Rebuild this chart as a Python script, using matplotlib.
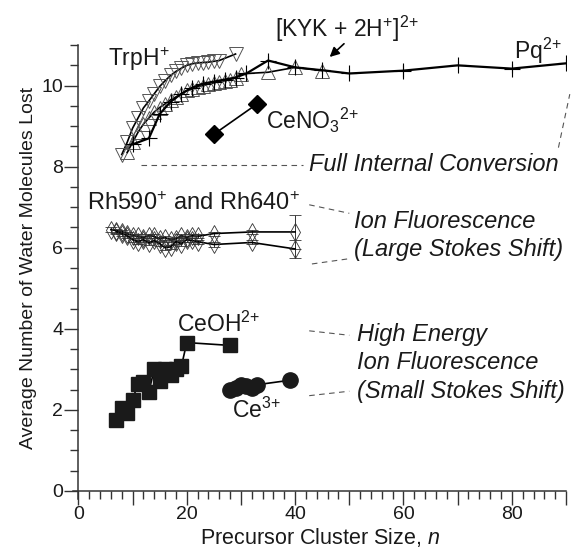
import numpy as np
import matplotlib
matplotlib.use('Agg')
import matplotlib.pyplot as plt
from matplotlib.ticker import MultipleLocator, FuncFormatter

plt.rcParams['font.family'] = ['Liberation Sans', 'DejaVu Sans']
plt.rcParams['mathtext.fontset'] = 'custom'
plt.rcParams['mathtext.rm'] = 'Liberation Sans'
plt.rcParams['mathtext.it'] = 'Liberation Sans:italic'
plt.rcParams['mathtext.default'] = 'rm'

# ---- data ----
trp_n = [8, 9, 10, 11, 12, 13, 14, 15, 16, 17, 18, 19, 20, 21, 22, 23, 24, 25, 26, 29]
trp_y = [8.3, 8.6, 8.95, 9.2, 9.45, 9.62, 9.8, 9.98, 10.12, 10.25, 10.35, 10.43,
         10.5, 10.54, 10.56, 10.57, 10.58, 10.6, 10.62, 10.78]

kyk_n = [9, 10, 11, 12, 13, 14, 15, 16, 17, 18, 19, 20, 21, 22, 23, 24, 25, 26,
         27, 28, 29, 30, 35, 40, 45]
kyk_y = [8.35, 8.6, 8.85, 9.05, 9.2, 9.35, 9.46, 9.55, 9.65, 9.72, 9.8, 9.88,
         9.92, 9.97, 10.0, 10.04, 10.07, 10.1, 10.12, 10.15, 10.2, 10.29, 10.33,
         10.45, 10.37]

pq_n = [10, 13, 15, 17, 19, 21, 23, 25, 27, 29, 31, 35, 40, 45, 50, 60, 70, 80, 90]
pq_y = [8.55, 8.7, 9.3, 9.6, 9.8, 9.95, 10.05, 10.1, 10.15, 10.2, 10.3, 10.62,
        10.45, 10.38, 10.3, 10.37, 10.5, 10.42, 10.55]
pq_err = [0.1, 0.1, 0.08, 0.08, 0.08, 0.08, 0.08, 0.08, 0.08, 0.08, 0.08, 0.12,
          0.1, 0.1, 0.1, 0.15, 0.1, 0.12, 0.1]

cen_n = [25, 33]
cen_y = [8.8, 9.55]

rha_n = [6, 7, 8, 9, 10, 11, 12, 13, 14, 15, 16, 17, 18, 19, 20, 21, 22, 25, 32, 40]
rha_y = [6.45, 6.42, 6.4, 6.35, 6.3, 6.28, 6.25, 6.3, 6.28, 6.22, 6.25, 6.2,
         6.22, 6.3, 6.25, 6.3, 6.28, 6.35, 6.39, 6.39]
rha_err = [0.05] * 19 + [0.42]

rhb_n = [7, 8, 9, 10, 11, 12, 13, 14, 15, 16, 17, 18, 19, 20, 21, 22, 25, 32, 40]
rhb_y = [6.4, 6.35, 6.3, 6.2, 6.15, 6.2, 6.12, 6.18, 6.1, 6.0, 6.02, 6.15, 6.1,
         6.2, 6.18, 6.15, 6.08, 6.13, 5.97]
rhb_err = [0.05] * 18 + [0.22]

ceoh_n = [7, 8, 9, 10, 11, 12, 13, 14, 15, 16, 17, 18, 19, 20, 28]
ceoh_y = [1.75, 2.05, 1.92, 2.25, 2.65, 2.68, 2.45, 3.0, 2.7, 3.0, 2.85, 3.0,
          3.07, 3.66, 3.59]

ce3_n = [28, 29, 30, 31, 32, 33, 39]
ce3_y = [2.48, 2.55, 2.62, 2.58, 2.55, 2.62, 2.73]

# ---- figure ----
fig = plt.figure(figsize=(5.73, 5.5), dpi=100)
ax = fig.add_axes([0.1274, 0.0927, 0.8604, 0.8253])
ax.set_xlim(-1.0, 90)
ax.set_ylim(-0.2, 11)

tc = '#1a1a1a'
dc = '#555555'

ax.plot(trp_n, trp_y, '-', color='k', lw=1.2, marker='v', ms=10, mfc='none',
        mec='#555555', mew=0.7, zorder=3)
ax.plot(kyk_n, kyk_y, '-', color='k', lw=1.2, marker='^', ms=10, mfc='none',
        mec='#555555', mew=0.7, zorder=3)
ax.errorbar(pq_n, pq_y, yerr=pq_err, fmt='-', color='k', lw=1.6, marker='+',
            ms=11, mew=0.8, elinewidth=0.8, ecolor='#333333', zorder=4)
ax.plot(cen_n, cen_y, '-', color='k', lw=1.2, marker='D', ms=9, zorder=4)
ax.errorbar(rha_n, rha_y, yerr=rha_err, fmt='-', color='k', lw=1.2, marker='d',
            ms=9, mfc='none', mec='#333333', mew=0.6, elinewidth=0.7,
            ecolor='#333333', capsize=4, capthick=0.7, zorder=3)
ax.errorbar(rhb_n, rhb_y, yerr=rhb_err, fmt='-', color='k', lw=1.2, marker='d',
            ms=9, mfc='none', mec='#333333', mew=0.6, elinewidth=0.7,
            ecolor='#333333', capsize=4, capthick=0.7, zorder=3)
ax.plot(ceoh_n, ceoh_y, '-', color='k', lw=1.2, marker='s', ms=9.5,
        mfc='#1a1a1a', mec='#1a1a1a', zorder=4)
ax.plot(ce3_n, ce3_y, '-', color='k', lw=1.2, marker='o', ms=11,
        mfc='#1a1a1a', mec='#1a1a1a', zorder=4)

# labels of the series
fs = 17
ax.text(11.1, 10.65, r'TrpH$^{+}$', fontsize=16.5, color=tc, ha='center', va='center')
ax.text(49.5, 11.4, r'[KYK + 2H$^{+}$]$^{2{+}}$', fontsize=16.5, color=tc,
        ha='center', va='center', clip_on=False)
ax.annotate('', xy=(46.0, 10.66), xytext=(49.4, 11.08), annotation_clip=False,
            arrowprops=dict(arrowstyle='-|>', color='k', lw=1.2, mutation_scale=14))
ax.text(84.8, 10.85, r'Pq$^{2{+}}$', fontsize=16.5, color=tc, ha='center', va='center')
ax.text(34.6, 9.15, r'CeNO$_3$$^{2{+}}$', fontsize=16.5, color=tc, ha='left', va='center')
ax.text(1.5, 7.09, r'Rh590$^{+}$ and Rh640$^{+}$', fontsize=fs, color=tc,
        ha='left', va='center')
ax.text(25.9, 4.1, r'CeOH$^{2{+}}$', fontsize=16.5, color=tc, ha='center', va='center')
ax.text(32.8, 1.99, r'Ce$^{3{+}}$', fontsize=16.5, color=tc, ha='center', va='center')

# regime annotations
ax.plot([11.5, 41.5], [8.05, 8.05], ls=(0, (5, 4)), color=dc, lw=0.8, clip_on=False)
ax.plot([88.6, 90.7], [8.47, 9.79], ls=(0, (5, 4)), color=dc, lw=0.8, clip_on=False)
ax.text(42.6, 8.06, 'Full Internal Conversion', fontsize=fs, style='italic',
        color=tc, ha='left', va='center', clip_on=False)

ax.plot([42.6, 50.0], [7.06, 6.85], ls=(0, (5, 4)), color=dc, lw=0.8)
ax.plot([43.1, 50.0], [5.6, 5.73], ls=(0, (5, 4)), color=dc, lw=0.8)
ax.text(50.9, 6.64, 'Ion Fluorescence', fontsize=fs, style='italic', color=tc,
        ha='left', va='center')
ax.text(50.9, 5.95, '(Large Stokes Shift)', fontsize=fs, style='italic', color=tc,
        ha='left', va='center', clip_on=False)

ax.plot([42.6, 50.0], [3.95, 3.84], ls=(0, (5, 4)), color=dc, lw=0.8)
ax.plot([42.6, 50.0], [2.35, 2.46], ls=(0, (5, 4)), color=dc, lw=0.8)
ax.text(51.5, 3.86, 'High Energy', fontsize=fs, style='italic', color=tc,
        ha='left', va='center')
ax.text(51.5, 3.16, 'Ion Fluorescence', fontsize=fs, style='italic', color=tc,
        ha='left', va='center')
ax.text(51.5, 2.46, '(Small Stokes Shift)', fontsize=fs, style='italic', color=tc,
        ha='left', va='center', clip_on=False)

# axes styling
for s in ['top', 'right']:
    ax.spines[s].set_visible(False)
ax.spines['left'].set_position(('data', 0))
ax.spines['bottom'].set_position(('data', 0))
for s in ['left', 'bottom']:
    ax.spines[s].set_color('#333333')
    ax.spines[s].set_linewidth(1.1)

ax.xaxis.set_major_locator(MultipleLocator(10))
ax.xaxis.set_minor_locator(MultipleLocator(2))
ax.xaxis.set_major_formatter(FuncFormatter(lambda v, p: '%d' % v if v % 20 == 0 else ''))
ax.yaxis.set_major_locator(MultipleLocator(2))
ax.yaxis.set_minor_locator(MultipleLocator(0.5))
ax.tick_params(which='major', direction='out', length=10, width=1, color='#333333',
               labelsize=14, labelcolor=tc, pad=1)
ax.tick_params(which='minor', direction='out', length=5.5, width=1, color='#333333')

ax.set_xlabel(r'Precursor Cluster Size, $\mathit{n}$', fontsize=15.5, color=tc)
ax.set_ylabel('Average Number of Water Molecules Lost', fontsize=14, color=tc)
ax.xaxis.set_label_coords(0.5, -0.06)
ax.yaxis.set_label_coords(-0.073, 0.51)

fig.savefig('out.png', dpi=100)
